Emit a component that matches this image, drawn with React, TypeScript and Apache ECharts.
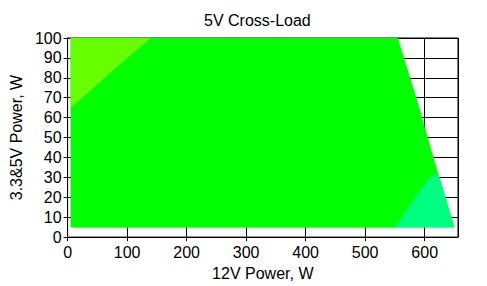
import React, { useEffect, useRef } from "react";
import * as echarts from "echarts";

// Region outlines (x = 12V power W, y = 3.3&5V power W)
const greenX = [5, 5, 555, 588, 620, 650];
const greenY = [5, 100, 100, 68, 34.5, 5];
const yellowX = [5, 5, 140, 85, 40];
const yellowY = [65, 100, 100, 86, 74];
const mintX = [550, 650, 624, 617, 603, 588, 570];
const mintY = [5, 5, 31, 32, 28, 22, 14];

const regionColors = ["#00FF00", "#66FF00", "#00FF80"];
const regions = [
  { x: greenX, y: greenY },
  { x: yellowX, y: yellowY },
  { x: mintX, y: mintY },
];

const xTicks = [0, 100, 200, 300, 400, 500, 600];
const yTicks = [0, 10, 20, 30, 40, 50, 60, 70, 80, 90, 100];

const FONT = "'Liberation Sans', Arial, sans-serif";

export default function App() {
  const ref = useRef<HTMLDivElement>(null);
  useEffect(() => {
    if (!ref.current) return;
    document.body.style.margin = "0";
    const chart = echarts.init(ref.current, undefined, { renderer: "svg" });
    chart.setOption({
      animation: false,
      backgroundColor: "#fff",
      textStyle: { fontFamily: FONT },
      title: {
        text: "5V Cross-Load",
        left: 204,
        top: 12,
        padding: 0,
        textStyle: { fontFamily: FONT, fontSize: 16, fontWeight: "normal", color: "#000" },
      },
      grid: {
        left: 58,
        top: 38,
        right: 29,
        bottom: 48,
        show: true,
        borderColor: "#000",
        borderWidth: 1,
        backgroundColor: "transparent",
      },
      xAxis: {
        type: "value",
        min: 0,
        max: 656,
        interval: 100,
        name: "12V Power, W",
        nameLocation: "middle",
        nameGap: 24,
        nameTextStyle: { fontFamily: FONT, fontSize: 16, color: "#000" },
        axisLine: { show: true, lineStyle: { color: "#000", width: 1 } },
        axisTick: { show: true, length: 4, lineStyle: { color: "#000" } },
        axisLabel: {
          fontFamily: FONT,
          fontSize: 16,
          color: "#000",
          margin: 7,
          showMaxLabel: false,
          formatter: (v: number) => (xTicks.includes(v) ? String(v) : ""),
        },
        splitLine: { show: true, lineStyle: { color: "#000", width: 1 } },
      },
      yAxis: {
        type: "value",
        min: 0,
        max: 100,
        interval: 10,
        name: "3.3&5V Power, W",
        nameLocation: "middle",
        nameGap: 41,
        nameTextStyle: { fontFamily: FONT, fontSize: 16, color: "#000" },
        axisLine: { show: true, lineStyle: { color: "#000", width: 1 } },
        axisTick: { show: true, length: 4, lineStyle: { color: "#000" } },
        axisLabel: {
          fontFamily: FONT,
          fontSize: 16,
          color: "#000",
          margin: 6,
          formatter: (v: number) => (yTicks.includes(v) ? String(v) : ""),
        },
        splitLine: { show: true, lineStyle: { color: "#000", width: 1 } },
      },
      series: [
        {
          type: "custom",
          clip: true,
          data: regions.map((_, i) => [i]),
          encode: { x: -1, y: -1 },
          renderItem: (params: any, api: any) => {
            const r = regions[params.dataIndex];
            const pts = r.x.map((x, j) => api.coord([x, r.y[j]]));
            return {
              type: "polygon",
              shape: { points: pts },
              style: { fill: regionColors[params.dataIndex], stroke: null },
            };
          },
        },
      ],
    });
    return () => chart.dispose();
  }, []);
  return (
    <div
      ref={ref}
      style={{ position: "fixed", left: 0, top: 0, width: 487, height: 286 }}
    />
  );
}
